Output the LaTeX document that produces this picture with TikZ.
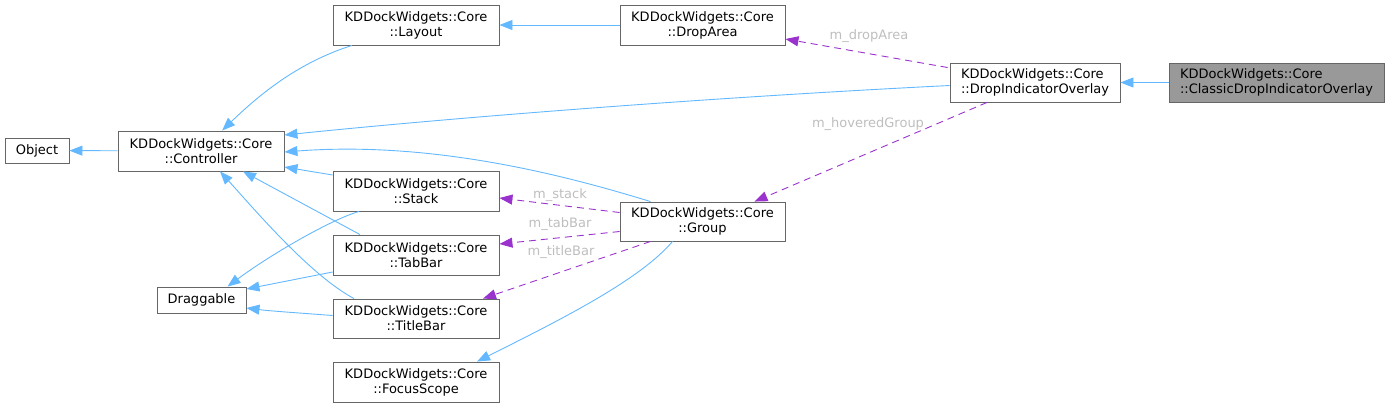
\documentclass[tikz,border=0pt]{standalone}
\usepackage{fontspec}
\setmainfont{DejaVu Sans}
\usetikzlibrary{arrows.meta,calc}
\definecolor{edgeblue}{HTML}{63B8FF}
\definecolor{edgepurple}{HTML}{9A32CD}
\definecolor{boxgray}{HTML}{666666}
\definecolor{labelgray}{HTML}{BEBEBE}
\definecolor{fillgray}{HTML}{999999}
\tikzset{
  cls/.style={draw=boxgray, line width=0.9pt, fill=white, inner sep=0pt, minimum width=166pt, minimum height=40pt, align=center, font=\fontsize{13}{15}\selectfont, text=black},
  inh/.style={draw=edgeblue, line width=0.9pt, -{Triangle[length=13pt,width=10pt]}},
  use/.style={draw=edgepurple, line width=0.9pt, dash pattern=on 7pt off 5pt, -{Triangle[length=13pt,width=10pt]}},
  lbl/.style={text=labelgray, font=\fontsize{13}{15}\selectfont, inner sep=0pt}
}
\begin{document}
\begin{tikzpicture}[x=1pt,y=-1pt]
\useasboundingbox (0,0) rectangle (1389,408);
% nodes
\node[cls, minimum width=64pt, minimum height=25pt] (obj) at (37,150.5) {Object};
\node[cls] (ctrl) at (201,151) {KDDockWidgets::Core\\::Controller};
\node[cls, minimum width=89pt, minimum height=26pt] (drag) at (201.5,300) {Draggable};
\node[cls] (layout) at (416,25) {KDDockWidgets::Core\\::Layout};
\node[cls, minimum width=165pt] (droparea) at (702.5,25) {KDDockWidgets::Core\\::DropArea};
\node[cls] (stack) at (416,191) {KDDockWidgets::Core\\::Stack};
\node[cls] (tabbar) at (416,255) {KDDockWidgets::Core\\::TabBar};
\node[cls, minimum height=39pt] (titlebar) at (416,318.5) {KDDockWidgets::Core\\::TitleBar};
\node[cls] (focus) at (416,382) {KDDockWidgets::Core\\::FocusScope};
\node[cls, minimum width=165pt, minimum height=39pt] (group) at (702.5,221.5) {KDDockWidgets::Core\\::Group};
\node[cls, minimum width=170pt, minimum height=39pt, align=left] (dio) at (1035,82.5) {KDDockWidgets::Core\\::DropIndicatorOverlay};
\node[cls, minimum width=215pt, minimum height=39pt, fill=fillgray, align=left] (classic) at (1276.5,82.5) {KDDockWidgets::Core\\::ClassicDropIndicatorOverlay};
% inheritance edges
\draw[inh] (ctrl) -- (obj);
\draw[inh] (layout) .. controls (300,62) and (262,92) .. (ctrl);
\draw[inh] (droparea) -- (layout);
\draw[inh] ($(dio.west)+(0,3)$) .. controls (700,98) and (450,118) .. ($(ctrl.east)+(0,-16)$);
\draw[inh] ($(group.north)+(-52,0)$) .. controls (580,180) and (440,140) .. ($(ctrl.east)+(0,1)$);
\draw[inh] ($(stack.west)+(0,-16)$) -- ($(ctrl.east)+(0,16)$);
\draw[inh] ($(tabbar.north)+(-56,0)$) -- ($(ctrl.south)+(42,0)$);
\draw[inh] ($(titlebar.north)+(-62,0)$) .. controls (310,275) and (255,210) .. ($(ctrl.south)+(19,0)$);
\draw[inh] ($(stack.south)+(-57,0)$) .. controls (330,220) and (270,255) .. ($(drag.north)+(26,0)$);
\draw[inh] ($(tabbar.west)+(0,17)$) -- ($(drag.east)+(0,-11)$);
\draw[inh] ($(titlebar.west)+(0,-3)$) .. controls (300,313) and (270,311) .. ($(drag.east)+(0,8)$);
\draw[inh] ($(group.south)+(-30,0)$) .. controls (640,280) and (560,320) .. ($(focus.north)+(61,0)$);
\draw[inh] (classic) -- (dio);
% usage edges
\draw[use] ($(dio.west)+(-2,-15)$) -- ($(droparea.east)+(0,14)$);
\node[lbl] (l1) at (869,36) {m\_dropArea};
\draw[use] ($(dio.south)+(-48,0)$) -- ($(group.north)+(52,0)$);
\node[lbl] (l2) at (868,124) {m\_hoveredGroup};
\draw[use] ($(group.west)+(0,-9)$) -- ($(stack.east)+(0,7)$);
\node[lbl] (l3) at (560,195) {m\_stack};
\draw[use] ($(group.west)+(0,10)$) -- ($(tabbar.east)+(0,-11)$);
\node[lbl] (l4) at (560,224) {m\_tabBar};
\draw[use] ($(group.south)+(-52,0)$) -- ($(titlebar.north)+(67,0)$);
\node[lbl] (l5) at (561,252) {m\_titleBar};
\end{tikzpicture}
\end{document}
